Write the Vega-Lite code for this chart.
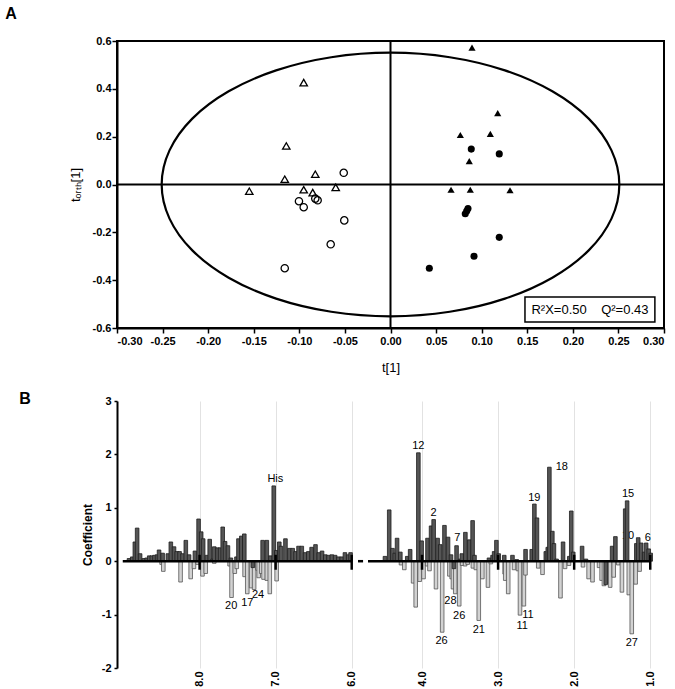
{
"$schema": "https://vega.github.io/schema/vega-lite/v6.json",
"padding": {"left": 4, "top": 5, "right": 5, "bottom": 2},
"background": "white",
"bounds": "flush",
"spacing": 73,
"config": {
  "font": "Liberation Sans",
  "locale": {"number": {"decimal": ".", "thousands": ",", "grouping": [3], "currency": ["$", ""], "minus": "-"}},
  "axis": {"labelFont": "Liberation Sans", "labelFontWeight": "bold", "labelFontSize": 11, "labelColor": "black", "titleFont": "Liberation Sans", "titleColor": "black", "domainColor": "black", "domainWidth": 2, "tickColor": "black", "tickWidth": 1.5, "grid": false}
},
"vconcat": [
{
  "width": 547, "height": 287,
  "view": {"stroke": "black", "strokeWidth": 2},
  "layer": [
    {
      "data": {"values": [{"i":0,"x":0.251,"y":0},{"i":1,"x":0.2424,"y":0.1426},{"i":2,"x":0.2174,"y":0.2755},{"i":3,"x":0.1775,"y":0.3896},{"i":4,"x":0.1255,"y":0.4772},{"i":5,"x":0.065,"y":0.5322},{"i":6,"x":0,"y":0.551},{"i":7,"x":-0.065,"y":0.5322},{"i":8,"x":-0.1255,"y":0.4772},{"i":9,"x":-0.1775,"y":0.3896},{"i":10,"x":-0.2174,"y":0.2755},{"i":11,"x":-0.2424,"y":0.1426},{"i":12,"x":-0.251,"y":0},{"i":13,"x":-0.2424,"y":-0.1426},{"i":14,"x":-0.2174,"y":-0.2755},{"i":15,"x":-0.1775,"y":-0.3896},{"i":16,"x":-0.1255,"y":-0.4772},{"i":17,"x":-0.065,"y":-0.5322},{"i":18,"x":0,"y":-0.551},{"i":19,"x":0.065,"y":-0.5322},{"i":20,"x":0.1255,"y":-0.4772},{"i":21,"x":0.1775,"y":-0.3896},{"i":22,"x":0.2174,"y":-0.2755},{"i":23,"x":0.2424,"y":-0.1426}]},
      "mark": {"type": "line", "interpolate": "cardinal-closed", "stroke": "black", "strokeWidth": 2.2},
      "encoding": {
        "x": {"field": "x", "type": "quantitative", "scale": {"domain": [-0.3, 0.3], "nice": false, "zero": false},
              "axis": {"values": [-0.3,-0.25,-0.2,-0.15,-0.1,-0.05,0,0.05,0.1,0.15,0.2,0.25,0.3], "format": ".2f", "title": "t[1]", "titleFontSize": 13, "titleFontWeight": "normal", "titlePadding": 15, "tickSize": 5, "labelPadding": 2}},
        "y": {"field": "y", "type": "quantitative", "scale": {"domain": [-0.6, 0.6], "nice": false, "zero": false},
              "axis": {"values": [-0.6,-0.4,-0.2,0,0.2,0.4,0.6], "format": ".1f", "title": "tₒᵣₜₕ[1]", "titleFontSize": 13, "titleFontWeight": "normal", "titlePadding": 10, "tickSize": 5, "labelPadding": 1}},
        "order": {"field": "i", "type": "quantitative"}
      }
    },
    {
      "data": {"values": [{}]},
      "mark": {"type": "rule", "color": "black", "strokeWidth": 2},
      "encoding": {"x": {"datum": 0, "type": "quantitative"}}
    },
    {
      "data": {"values": [{}]},
      "mark": {"type": "rule", "color": "black", "strokeWidth": 2},
      "encoding": {"y": {"datum": 0, "type": "quantitative"}}
    },
    {
      "data": {"values": [
        {"x":-0.0952,"y":0.426,"g":"a"},{"x":-0.1143,"y":0.161,"g":"a"},{"x":-0.116,"y":0.022,"g":"a"},{"x":-0.0825,"y":0.043,"g":"a"},{"x":-0.1549,"y":-0.028,"g":"a"},{"x":-0.0952,"y":-0.022,"g":"a"},{"x":-0.0853,"y":-0.034,"g":"a"},{"x":-0.0601,"y":-0.012,"g":"a"},
        {"x":-0.0513,"y":0.049,"g":"b"},{"x":-0.1004,"y":-0.07,"g":"b"},{"x":-0.0952,"y":-0.095,"g":"b"},{"x":-0.0825,"y":-0.059,"g":"b"},{"x":-0.0799,"y":-0.066,"g":"b"},{"x":-0.0507,"y":-0.15,"g":"b"},{"x":-0.0656,"y":-0.25,"g":"b"},{"x":-0.116,"y":-0.35,"g":"b"}
      ]},
      "mark": {"type": "point", "filled": false, "stroke": "black", "strokeWidth": 1.3, "opacity": 1},
      "encoding": {
        "x": {"field": "x", "type": "quantitative"},
        "y": {"field": "y", "type": "quantitative"},
        "shape": {"field": "g", "type": "nominal", "scale": {"domain": ["a","b"], "range": ["triangle-up","circle"]}, "legend": null},
        "size": {"field": "g", "type": "nominal", "scale": {"domain": ["a","b"], "range": [55,50]}, "legend": null}
      }
    },
    {
      "data": {"values": [
        {"x":0.0894,"y":0.572,"h":"c"},{"x":0.1176,"y":0.298,"h":"c"},{"x":0.0766,"y":0.207,"h":"c"},{"x":0.1095,"y":0.212,"h":"c"},{"x":0.0864,"y":0.098,"h":"c"},{"x":0.0664,"y":-0.022,"h":"c"},{"x":0.0875,"y":-0.022,"h":"c"},{"x":0.1311,"y":-0.024,"h":"c"},
        {"x":0.0886,"y":0.148,"h":"d"},{"x":0.1193,"y":0.128,"h":"d"},{"x":0.085,"y":-0.1,"h":"d"},{"x":0.082,"y":-0.122,"h":"d"},{"x":0.0836,"y":-0.111,"h":"d"},{"x":0.1193,"y":-0.221,"h":"d"},{"x":0.0916,"y":-0.3,"h":"d"},{"x":0.0426,"y":-0.35,"h":"d"}
      ]},
      "mark": {"type": "point", "filled": true, "color": "black", "opacity": 1},
      "encoding": {
        "x": {"field": "x", "type": "quantitative"},
        "y": {"field": "y", "type": "quantitative"},
        "shape": {"field": "h", "type": "nominal", "scale": {"domain": ["c","d"], "range": ["triangle-up","circle"]}, "legend": null},
        "size": {"field": "h", "type": "nominal", "scale": {"domain": ["c","d"], "range": [32,42]}, "legend": null}
      }
    },
    {
      "data": {"values": [{"x": 0.1475, "x2": 0.29, "y": -0.47, "y2": -0.575}]},
      "mark": {"type": "rect", "fill": "white", "stroke": "black", "strokeWidth": 1.5},
      "encoding": {
        "x": {"field": "x", "type": "quantitative"}, "x2": {"field": "x2"},
        "y": {"field": "y", "type": "quantitative"}, "y2": {"field": "y2"}
      }
    },
    {
      "data": {"values": [{"x": 0.2188, "y": -0.523, "label": "R²X=0.50\u00a0\u00a0\u00a0\u00a0Q²=0.43"}]},
      "mark": {"type": "text", "fontSize": 13, "font": "Liberation Sans", "color": "black", "align": "center", "baseline": "middle"},
      "encoding": {
        "x": {"field": "x", "type": "quantitative"},
        "y": {"field": "y", "type": "quantitative"},
        "text": {"field": "label"}
      }
    },
    {
      "data": {"values": [{"x": -0.4225, "y": 0.746, "label": "A"}]},
      "mark": {"type": "text", "fontSize": 16, "fontWeight": "bold", "font": "Liberation Sans", "color": "black", "align": "left", "baseline": "top"},
      "encoding": {
        "x": {"field": "x", "type": "quantitative"},
        "y": {"field": "y", "type": "quantitative"},
        "text": {"field": "label"}
      }
    }
  ]
},
{
  "width": 539, "height": 267,
  "view": {"stroke": null},
  "layer": [
    {
      "data": {"values": [
        {"p":7.004,"v":1.54,"s":"His"},{"p":7.584,"v":-0.84,"s":"20"},{"p":7.373,"v":-0.79,"s":"17"},{"p":7.231,"v":-0.63,"s":"24"},
        {"p":4.048,"v":2.16,"s":"12"},{"p":3.847,"v":0.91,"s":"2"},{"p":3.537,"v":0.44,"s":"7"},{"p":3.627,"v":-0.75,"s":"28"},{"p":3.511,"v":-1.02,"s":"26"},{"p":3.743,"v":-1.49,"s":"26"},{"p":3.254,"v":-1.29,"s":"21"},
        {"p":2.609,"v":-1.01,"s":"11"},{"p":2.683,"v":-1.21,"s":"11"},{"p":2.523,"v":1.18,"s":"19"},{"p":2.163,"v":1.76,"s":"18"},
        {"p":1.291,"v":1.26,"s":"15"},{"p":1.291,"v":0.47,"s":"10"},{"p":1.033,"v":0.44,"s":"6"},{"p":1.243,"v":-1.53,"s":"27"}
      ]},
      "mark": {"type": "text", "fontSize": 11, "font": "Liberation Sans", "color": "black", "align": "center", "baseline": "middle"},
      "encoding": {
        "x": {"field": "p", "type": "quantitative", "scale": {"domain": [9.01, 6.0, 4.71, 1.0], "range": [0, 234.7, 251, 539], "zero": false, "nice": false},
              "axis": {"values": [8,7,6,4,3,2,1], "format": ".1f", "title": null, "labelAngle": -90, "grid": true, "gridColor": "#e2e2e2", "gridWidth": 1, "domain": false, "ticks": false, "tickSize": 0, "labelPadding": 3}},
        "y": {"field": "v", "type": "quantitative", "scale": {"domain": [-2, 3], "nice": false, "zero": false},
              "axis": {"values": [-2,-1,0,1,2,3], "format": "d", "title": "Coefficient", "titleFontSize": 12, "titleFontWeight": "bold", "titlePadding": 7, "tickSize": 3, "labelPadding": 3}},
        "text": {"field": "s"}
      }
    },
    {
      "data": {"values": [
        {"p":8.499,"v":-0.06,"t":"l"},{"p":8.477,"v":-0.19,"t":"l"},{"p":8.25,"v":-0.39,"t":"l"},{"p":8.117,"v":-0.33,"t":"l"},{"p":8.074,"v":-0.14,"t":"l"},{"p":8.026,"v":-0.06,"t":"l"},{"p":7.962,"v":-0.28,"t":"l"},{"p":7.919,"v":-0.23,"t":"l"},{"p":7.807,"v":-0.04,"t":"l"},{"p":7.605,"v":-0.09,"t":"l"},{"p":7.58,"v":-0.68,"t":"l"},{"p":7.537,"v":-0.23,"t":"l"},{"p":7.511,"v":-0.14,"t":"l"},{"p":7.408,"v":-0.29,"t":"l"},{"p":7.373,"v":-0.61,"t":"l"},{"p":7.322,"v":-0.5,"t":"l"},{"p":7.283,"v":-0.53,"t":"l"},{"p":7.24,"v":-0.17,"t":"l"},{"p":7.223,"v":-0.31,"t":"l"},{"p":7.189,"v":-0.23,"t":"l"},{"p":7.159,"v":-0.34,"t":"l"},{"p":7.116,"v":-0.36,"t":"l"},{"p":7.077,"v":-0.61,"t":"l"},{"p":6.987,"v":-0.37,"t":"l"},
        {"p":4.276,"v":-0.07,"t":"l"},{"p":4.233,"v":-0.16,"t":"l"},{"p":4.117,"v":-0.41,"t":"l"},{"p":4.083,"v":-0.86,"t":"l"},{"p":4.031,"v":-0.38,"t":"l"},{"p":3.98,"v":-0.33,"t":"l"},{"p":3.932,"v":-0.09,"t":"l"},{"p":3.902,"v":-0.18,"t":"l"},{"p":3.816,"v":-0.52,"t":"l"},{"p":3.735,"v":-1.33,"t":"l"},{"p":3.64,"v":-0.28,"t":"l"},{"p":3.61,"v":-0.33,"t":"l"},{"p":3.593,"v":-0.52,"t":"l"},{"p":3.563,"v":-0.61,"t":"l"},{"p":3.511,"v":-0.84,"t":"l"},{"p":3.473,"v":-0.08,"t":"l"},{"p":3.434,"v":-0.09,"t":"l"},{"p":3.4,"v":-0.06,"t":"l"},{"p":3.331,"v":-0.13,"t":"l"},{"p":3.292,"v":-0.16,"t":"l"},{"p":3.254,"v":-1.11,"t":"l"},{"p":3.207,"v":-0.33,"t":"l"},{"p":3.133,"v":-0.49,"t":"l"},{"p":3.095,"v":-0.05,"t":"l"},{"p":2.914,"v":-0.24,"t":"l"},
        {"p":2.906,"v":-0.36,"t":"l"},{"p":2.867,"v":-0.61,"t":"l"},{"p":2.79,"v":-0.16,"t":"l"},{"p":2.738,"v":-0.18,"t":"l"},{"p":2.712,"v":-1.01,"t":"l"},{"p":2.661,"v":-0.84,"t":"l"},{"p":2.64,"v":-0.26,"t":"l"},{"p":2.472,"v":-0.13,"t":"l"},{"p":2.416,"v":-0.25,"t":"l"},{"p":2.18,"v":-0.69,"t":"l"},{"p":2.12,"v":-0.14,"t":"l"},{"p":2.068,"v":-0.08,"t":"l"},{"p":1.884,"v":-0.11,"t":"l"},{"p":1.81,"v":-0.33,"t":"l"},{"p":1.759,"v":-0.39,"t":"l"},{"p":1.673,"v":-0.12,"t":"l"},{"p":1.639,"v":-0.36,"t":"l"},{"p":1.609,"v":-0.46,"t":"l"},{"p":1.566,"v":-0.41,"t":"l"},{"p":1.527,"v":-0.49,"t":"l"},{"p":1.48,"v":-0.3,"t":"l"},{"p":1.42,"v":-0.07,"t":"l"},{"p":1.372,"v":-0.58,"t":"l"},{"p":1.282,"v":-0.63,"t":"l"},{"p":1.243,"v":-1.36,"t":"l"},{"p":1.192,"v":-0.43,"t":"l"},{"p":1.14,"v":-0.19,"t":"l"},
        {"p":8.928,"v":0.05,"t":"d"},{"p":8.885,"v":0.08,"t":"d"},{"p":8.851,"v":0.36,"t":"d"},{"p":8.821,"v":0.62,"t":"d"},{"p":8.782,"v":0.14,"t":"d"},{"p":8.731,"v":0.05,"t":"d"},{"p":8.696,"v":0.06,"t":"d"},{"p":8.662,"v":0.1,"t":"d"},{"p":8.628,"v":0.1,"t":"d"},{"p":8.593,"v":0.11,"t":"d"},{"p":8.559,"v":0.12,"t":"d"},{"p":8.533,"v":0.21,"t":"d"},{"p":8.486,"v":0.15,"t":"d"},{"p":8.417,"v":0.14,"t":"d"},{"p":8.378,"v":0.36,"t":"d"},{"p":8.336,"v":0.27,"t":"d"},{"p":8.301,"v":0.18,"t":"d"},{"p":8.263,"v":0.18,"t":"d"},{"p":8.224,"v":0.14,"t":"d"},{"p":8.181,"v":0.39,"t":"d"},{"p":8.138,"v":0.12,"t":"d"},{"p":8.061,"v":0.19,"t":"d"},{"p":8.013,"v":0.79,"t":"d"},{"p":7.979,"v":0.55,"t":"d"},{"p":7.953,"v":0.42,"t":"d"},{"p":7.902,"v":0.11,"t":"d"},{"p":7.867,"v":0.41,"t":"d"},{"p":7.829,"v":0.04,"t":"d"},{"p":7.807,"v":0.27,"t":"d"},{"p":7.764,"v":0.25,"t":"d"},{"p":7.73,"v":0.25,"t":"d"},{"p":7.696,"v":0.64,"t":"d"},{"p":7.665,"v":0.37,"t":"d"},{"p":7.627,"v":0.29,"t":"d"},{"p":7.588,"v":0.06,"t":"d"},{"p":7.515,"v":0.08,"t":"d"},{"p":7.489,"v":0.42,"t":"d"},{"p":7.451,"v":0.47,"t":"d"},{"p":7.412,"v":0.51,"t":"d"},{"p":7.3,"v":-0.12,"t":"d"},{"p":7.171,"v":0.39,"t":"d"},{"p":7.116,"v":0.39,"t":"d"},{"p":7.068,"v":0.1,"t":"d"},{"p":7.025,"v":1.41,"t":"d"},{"p":6.991,"v":0.2,"t":"d"},{"p":6.952,"v":0.36,"t":"d"},{"p":6.931,"v":0.28,"t":"d"},{"p":6.871,"v":0.42,"t":"d"},{"p":6.819,"v":0.24,"t":"d"},{"p":6.776,"v":0.24,"t":"d"},{"p":6.738,"v":0.18,"t":"d"},{"p":6.699,"v":0.28,"t":"d"},{"p":6.656,"v":0.28,"t":"d"},{"p":6.613,"v":0.16,"t":"d"},{"p":6.57,"v":0.18,"t":"d"},{"p":6.527,"v":0.26,"t":"d"},{"p":6.476,"v":0.31,"t":"d"},{"p":6.433,"v":0.16,"t":"d"},{"p":6.39,"v":0.19,"t":"d"},{"p":6.347,"v":0.12,"t":"d"},{"p":6.304,"v":0.11,"t":"d"},{"p":6.261,"v":0.12,"t":"d"},{"p":6.218,"v":0.11,"t":"d"},{"p":6.175,"v":0.08,"t":"d"},{"p":6.132,"v":0.08,"t":"d"},{"p":6.089,"v":0.16,"t":"d"},{"p":6.046,"v":0.12,"t":"d"},{"p":6.015,"v":0.16,"t":"d"},
        {"p":4.487,"v":0.09,"t":"d"},{"p":4.431,"v":0.96,"t":"d"},{"p":4.388,"v":0.24,"t":"d"},{"p":4.358,"v":0.15,"t":"d"},{"p":4.328,"v":0.43,"t":"d"},{"p":4.285,"v":0.17,"t":"d"},{"p":4.194,"v":0.09,"t":"d"},{"p":4.156,"v":0.22,"t":"d"},{"p":4.048,"v":2.03,"t":"d"},{"p":4.005,"v":0.38,"t":"d"},{"p":3.928,"v":0.43,"t":"d"},{"p":3.881,"v":0.66,"t":"d"},{"p":3.847,"v":0.78,"t":"d"},{"p":3.795,"v":0.43,"t":"d"},{"p":3.761,"v":0.31,"t":"d"},{"p":3.705,"v":0.67,"t":"d"},{"p":3.658,"v":0.45,"t":"d"},{"p":3.619,"v":0.12,"t":"d"},{"p":3.58,"v":-0.14,"t":"d"},{"p":3.546,"v":0.29,"t":"d"},{"p":3.499,"v":0.04,"t":"d"},{"p":3.477,"v":0.14,"t":"d"},{"p":3.43,"v":0.54,"t":"d"},{"p":3.378,"v":0.4,"t":"d"},{"p":3.335,"v":0.76,"t":"d"},{"p":3.31,"v":0.11,"t":"d"},{"p":3.12,"v":0.06,"t":"d"},{"p":3.073,"v":0.11,"t":"d"},{"p":3.052,"v":0.18,"t":"d"},{"p":3.022,"v":0.39,"t":"d"},{"p":2.992,"v":0.14,"t":"d"},{"p":2.919,"v":0.11,"t":"d"},
        {"p":2.811,"v":0.11,"t":"d"},{"p":2.755,"v":0.03,"t":"d"},{"p":2.639,"v":0.22,"t":"d"},{"p":2.558,"v":0.22,"t":"d"},{"p":2.523,"v":1.07,"t":"d"},{"p":2.489,"v":0.81,"t":"d"},{"p":2.373,"v":0.18,"t":"d"},{"p":2.347,"v":0.26,"t":"d"},{"p":2.326,"v":1.76,"t":"d"},{"p":2.287,"v":0.56,"t":"d"},{"p":2.266,"v":0.33,"t":"d"},{"p":2.231,"v":0.04,"t":"d"},{"p":2.146,"v":0.36,"t":"d"},{"p":2.064,"v":0.09,"t":"d"},{"p":2.038,"v":0.94,"t":"d"},{"p":2.012,"v":0.17,"t":"d"},{"p":1.896,"v":0.28,"t":"d"},{"p":1.845,"v":0.04,"t":"d"},{"p":1.585,"v":-0.44,"t":"d"},{"p":1.501,"v":0.28,"t":"d"},{"p":1.458,"v":0.46,"t":"d"},{"p":1.329,"v":0.98,"t":"d"},{"p":1.304,"v":1.13,"t":"d"},{"p":1.183,"v":0.33,"t":"d"},{"p":1.158,"v":0.44,"t":"d"},{"p":1.119,"v":0.34,"t":"d"},{"p":1.08,"v":0.17,"t":"d"},{"p":1.054,"v":0.34,"t":"d"},{"p":1.02,"v":0.23,"t":"d"},{"p":0.994,"v":0.15,"t":"d"}
      ]},
      "mark": {"type": "bar", "width": 3.6, "strokeWidth": 0.8},
      "encoding": {
        "x": {"field": "p", "type": "quantitative"},
        "y": {"field": "v", "type": "quantitative"},
        "fill": {"field": "t", "type": "nominal", "scale": {"domain": ["l","d"], "range": ["#d2d2d2","#555555"]}, "legend": null},
        "stroke": {"field": "t", "type": "nominal", "scale": {"domain": ["l","d"], "range": ["#555555","#1e1e1e"]}, "legend": null}
      }
    },
    {
      "data": {"values": [{"p": 9.01, "q": 6.0}, {"p": 4.71, "q": 1.0}, {"p": 5.5, "q": 5.1}]},
      "mark": {"type": "rule", "color": "black", "strokeWidth": 2.5},
      "encoding": {
        "x": {"field": "p", "type": "quantitative"}, "x2": {"field": "q"},
        "y": {"datum": 0, "type": "quantitative"}
      }
    },
    {
      "data": {"values": [{"p": 8}, {"p": 7}, {"p": 6}, {"p": 4}, {"p": 3}, {"p": 2}, {"p": 1}]},
      "mark": {"type": "rule", "color": "black", "strokeWidth": 2.5},
      "encoding": {
        "x": {"field": "p", "type": "quantitative"},
        "y": {"datum": -0.16, "type": "quantitative"}, "y2": {"datum": 0.12}
      }
    },
    {
      "data": {"values": [{"p": 10.37, "v": 3.19, "s": "B"}]},
      "mark": {"type": "text", "fontSize": 16, "fontWeight": "bold", "font": "Liberation Sans", "color": "black", "align": "left", "baseline": "top"},
      "encoding": {
        "x": {"field": "p", "type": "quantitative"},
        "y": {"field": "v", "type": "quantitative"},
        "text": {"field": "s"}
      }
    }
  ]
}
]
}
